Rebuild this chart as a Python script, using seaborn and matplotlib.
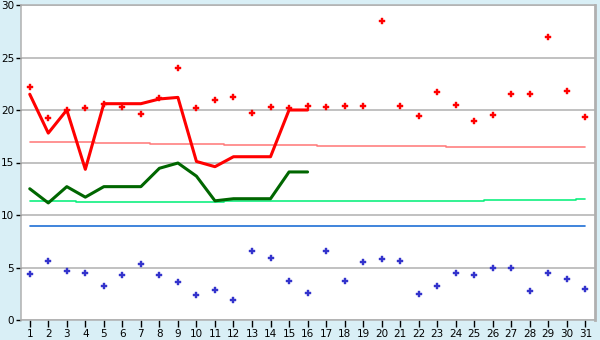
import matplotlib
matplotlib.use("Agg")
import matplotlib.pyplot as plt
import seaborn as sns
import pandas as pd

days = list(range(1, 32))
max_temp = [22.2, 19.2, 20.0, 20.2, 20.6, 20.3, 19.6, 21.1, 24.0, 20.2,
            21.0, 21.2, 19.7, 20.3, 20.2, 20.4, 20.3, 20.4, 20.4, 28.5,
            20.4, 19.4, 21.7, 20.5, 19.0, 19.5, 21.5, 21.5, 27.0, 21.8, 19.3]
min_temp = [4.35, 5.6, 4.7, 4.5, 3.2, 4.25, 5.3, 4.25, 3.6, 2.35,
            2.85, 1.95, 6.55, 5.95, 3.7, 2.55, 6.55, 3.7, 5.5, 5.8,
            5.6, 2.45, 3.2, 4.5, 4.25, 5.0, 5.0, 2.75, 4.5, 3.95, 3.0]
line_days = list(range(1, 17))
hi_line = [21.5, 17.8, 20.0, 14.35, 20.6, 20.6, 20.6, 21.05, 21.2, 15.1,
           14.6, 15.55, 15.55, 15.55, 20.0, 20.0]
lo_line = [12.5, 11.15, 12.7, 11.7, 12.7, 12.7, 12.7, 14.45, 14.95, 13.7,
           11.35, 11.55, 11.55, 11.55, 14.1, 14.1]
norm_max = [16.92] * 4 + [16.83] * 3 + [16.73] * 4 + [16.64] * 5 + [16.54] * 7 + [16.45] * 8
norm_min = [11.30] * 3 + [11.21] * 8 + [11.30] * 14 + [11.40] * 5 + [11.50]
ref_line = [9.0] * 31
yticks = [0, 5, 10, 15, 20, 25, 30]

df = pd.DataFrame({"day": days, "max": max_temp, "min": min_temp,
                   "nmax": norm_max, "nmin": norm_min, "ref": ref_line})
dl = pd.DataFrame({"day": line_days, "hi": hi_line, "lo": lo_line})

sns.set_style("white")
plt.rcParams["font.family"] = ["DejaVu Sans"]

fig = plt.figure(figsize=(6, 3.4), dpi=100)
fig.patch.set_facecolor("#d9eff6")
ax = fig.add_axes([20.5 / 600, 20 / 340, 574.5 / 600, 315 / 340])
ax.set_facecolor("white")

for v in yticks:
    ax.axhline(v, color="#b0b0b0", lw=1.1, zorder=0)

sns.lineplot(data=df, x="day", y="ref", ax=ax, color="#1f6fd6", lw=1.2, zorder=2)
sns.lineplot(data=df, x="day", y="nmax", ax=ax, color="#ff8080", lw=1.2,
             drawstyle="steps-mid", zorder=2)
sns.lineplot(data=df, x="day", y="nmin", ax=ax, color="#10f080", lw=1.2,
             drawstyle="steps-mid", zorder=2)
sns.lineplot(data=dl, x="day", y="lo", ax=ax, color="#006600", lw=2.2, zorder=3)
sns.lineplot(data=dl, x="day", y="hi", ax=ax, color="#ff0000", lw=2.2, zorder=3)
sns.scatterplot(data=df, x="day", y="max", ax=ax, color="#ff0000", marker="P",
                s=22, edgecolor="#ff0000", linewidth=0.3, zorder=4)
sns.scatterplot(data=df, x="day", y="min", ax=ax, color="#3333cc", marker="P",
                s=22, edgecolor="#3333cc", linewidth=0.3, zorder=4)

ax.set_xlim(0.5, 31.52)
ax.set_ylim(0, 30)
ax.set_xticks(days)
ax.set_xticklabels([str(d) for d in days])
ax.set_yticks(yticks)
ax.set_yticklabels([str(v) for v in yticks])
ax.set_xlabel("")
ax.set_ylabel("")
ax.tick_params(axis="both", labelsize=7.5, colors="#000000", width=1,
               direction="out")
ax.tick_params(axis="x", bottom=True, length=5, pad=1.5)
ax.tick_params(axis="y", left=True, length=3.5, pad=1)
for s in ["left", "bottom", "top", "right"]:
    ax.spines[s].set_color("#b0b0b0")
    ax.spines[s].set_linewidth(1.1)
ax.spines["right"].set_linewidth(2)
ax.grid(False)

fig.savefig("out.png", dpi=100, facecolor=fig.get_facecolor())
